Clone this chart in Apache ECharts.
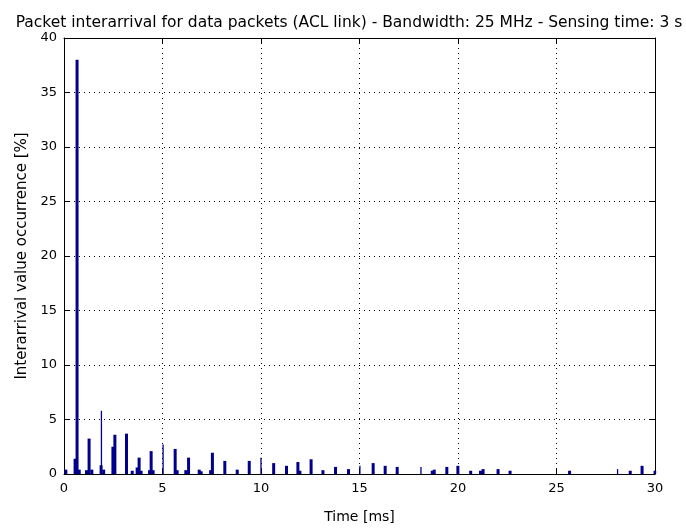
<!DOCTYPE html>
<html>
<head>
<meta charset="utf-8">
<script src="https://cdn.jsdelivr.net/npm/echarts@6/dist/echarts.min.js"></script>
<style>html,body{margin:0;padding:0;background:#fff}#c{width:686px;height:529px}</style>
</head>
<body>
<div id="c"></div>
<script>
var titleText = 'Packet interarrival for data packets (ACL link) - Bandwidth: 25 MHz - Sensing time: 3 s';
var xName = 'Time [ms]';
var yName = 'Interarrival value occurrence [%]';
var xTicks = [0, 5, 10, 15, 20, 25, 30];
var yTicks = [0, 5, 10, 15, 20, 25, 30, 35, 40];

// thick bars: time [ms] and occurrence [%]
var thickTimes = [0.05, 0.52, 0.62, 0.73, 1.1, 1.23, 1.37, 1.84, 1.97, 2.44, 2.54, 3.13, 3.42, 3.67, 3.77, 3.87, 4.3, 4.38, 4.48, 5.6, 5.7, 6.14, 6.28, 6.82, 6.92, 7.4, 7.49, 8.12, 8.75, 9.36, 10.6, 11.25, 11.83, 11.93, 12.5, 13.1, 13.74, 14.4, 15.65, 16.26, 16.87, 18.65, 18.75, 19.39, 19.95, 20.6, 21.1, 21.23, 21.99, 22.6, 25.62, 28.7, 29.3, 29.96];
var thickValues = [0.4, 1.4, 38.0, 0.4, 0.35, 3.25, 0.4, 0.8, 0.4, 2.5, 3.6, 3.7, 0.3, 0.6, 1.5, 0.3, 0.35, 2.1, 0.35, 2.3, 0.35, 0.35, 1.5, 0.4, 0.25, 0.35, 1.95, 1.2, 0.4, 1.2, 1.0, 0.75, 1.1, 0.3, 1.35, 0.35, 0.65, 0.45, 1.0, 0.75, 0.65, 0.3, 0.4, 0.65, 0.75, 0.3, 0.3, 0.45, 0.45, 0.3, 0.3, 0.3, 0.75, 0.3];
// thin bars
var thinTimes = [1.9, 5.03, 10.0, 15.02, 18.12, 28.1];
var thinValues = [5.8, 2.7, 1.5, 0.75, 0.65, 0.45];

function pairs(xs, ys) { return xs.map(function (x, i) { return [x, ys[i]]; }); }

var font = 'DejaVu Sans, Verdana, sans-serif';
var barColor = '#00008c';
var chart = echarts.init(document.getElementById('c'), null, {renderer: 'canvas'});

var axisCommon = {
  axisLine: {show: true, onZero: false, lineStyle: {color: '#000', width: 1}},
  axisTick: {show: true, inside: true, length: 5, lineStyle: {color: '#000'}},
  axisLabel: {show: true, color: '#000', fontFamily: font, fontSize: 12},
  splitLine: {show: false}
};

chart.setOption({
  animation: false,
  title: {
    text: titleText, left: 344, top: 10, textAlign: 'center',
    textStyle: {fontFamily: font, fontSize: 15.5, fontWeight: 'normal', color: '#000'}
  },
  grid: {left: 64, right: 31, top: 38, bottom: 51, containLabel: false},
  xAxis: [
    Object.assign({}, axisCommon, {
      type: 'value', min: xTicks[0], max: xTicks[xTicks.length - 1], interval: 5, position: 'bottom',
      name: xName, nameLocation: 'middle', nameGap: 36,
      nameTextStyle: {fontFamily: font, fontSize: 14, color: '#000'},
      axisLabel: {color: '#000', fontFamily: font, fontSize: 13, margin: 8},
      splitLine: {show: true, lineStyle: {color: '#000', type: [1, 4], width: 1}}
    }),
    Object.assign({}, axisCommon, {
      type: 'value', min: xTicks[0], max: xTicks[xTicks.length - 1], interval: 5, position: 'top',
      axisLabel: {show: false}
    })
  ],
  yAxis: [
    Object.assign({}, axisCommon, {
      type: 'value', min: yTicks[0], max: yTicks[yTicks.length - 1], interval: 5, position: 'left',
      name: yName, nameLocation: 'middle', nameGap: 34, nameRotate: 90,
      nameTextStyle: {fontFamily: font, fontSize: 15, color: '#000'},
      axisLabel: {color: '#000', fontFamily: font, fontSize: 13, margin: 7},
      splitLine: {show: true, lineStyle: {color: '#000', type: [1, 4], width: 1}}
    }),
    Object.assign({}, axisCommon, {
      type: 'value', min: yTicks[0], max: yTicks[yTicks.length - 1], interval: 5, position: 'right',
      axisLabel: {show: false}
    })
  ],
  series: [
    {
      type: 'bar', xAxisIndex: 0, yAxisIndex: 0, data: pairs(thickTimes, thickValues),
      barWidth: 3, barGap: '-100%', itemStyle: {color: barColor}, z: 3
    },
    {
      type: 'bar', xAxisIndex: 0, yAxisIndex: 0, data: pairs(thinTimes, thinValues),
      barWidth: 1.3, barGap: '-100%', itemStyle: {color: barColor}, z: 3
    }
  ]
});
</script>
</body>
</html>
